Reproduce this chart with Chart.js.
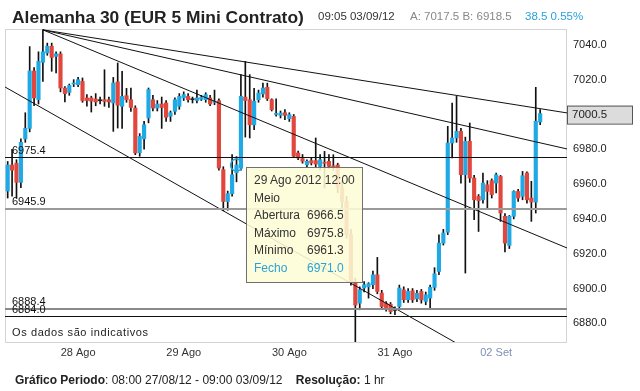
<!DOCTYPE html>
<html>
<head>
<meta charset="utf-8">
<script src="https://cdn.jsdelivr.net/npm/chart.js@4.4.0/dist/chart.umd.min.js"></script>
<style>
  html, body { margin: 0; padding: 0; background: #fff; }
  body { width: 640px; height: 391px; position: relative; overflow: hidden;
         font-family: 'Liberation Sans', Arial, sans-serif; color: #222; }
  #grafico { position: absolute; left: 0; top: 0; }
  .abs { position: absolute; white-space: nowrap; line-height: 1; }
  #titulo { left: 12px; top: 9px; font-weight: bold; font-size: 17.4px; color: #222; }
  .cab { top: 11px; font-size: 11.5px; }
  #nota { left: 12px; top: 327px; font-size: 11px; letter-spacing: 0.6px; color: #222; }
  #rodape { left: 15px; top: 374px; font-size: 12px; color: #222; }
  #dica { position: absolute; left: 246px; top: 167px; width: 117px; height: 116px; box-sizing: border-box;
          background: rgba(253, 252, 214, 0.88); border: 1px solid #707070;
          padding: 4px 0 0 7px; font-size: 12px; line-height: 17.5px; color: #333; }
  #dica span.l { display: inline-block; width: 53px; }
  #dica .fecho { color: #29a3d8; }
</style>
</head>
<body>
<canvas id="grafico" width="640" height="391"></canvas>
<div class="abs" id="titulo">Alemanha 30 (EUR 5 Mini Contrato)</div>
<div class="abs cab" style="left:318px;color:#333">09:05 03/09/12</div>
<div class="abs cab" style="left:410px;color:#888">A: 7017.5 B: 6918.5</div>
<div class="abs cab" style="left:525px;color:#29a3d8">38.5 0.55%</div>
<div class="abs" id="nota">Os dados são indicativos</div>
<div class="abs" id="rodape"><b>Gráfico Periodo</b>: 08:00 27/08/12 - 09:00 03/09/12 &nbsp;&nbsp;&nbsp;<b>Resolução:</b> 1 hr</div>
<div id="dica"></div>
<script>
"use strict";

// velas de 1 hora, 27/08 08:00 ... 03/09 09:00
var opens = [6956, 6971, 6972, 6961, 6986, 6992, 7025, 7008.5, 7030, 7035.3,
  7039.2, 7033.4, 7034.8, 7015.2, 7012.7, 7017.5, 7017.1, 7019, 7009.5, 7009.5,
  7008.9, 7007.9, 7008.5, 7008.5, 7006.6, 7018.7, 7004.7, 7010.8, 7008.5, 7003.7,
  6978, 6986, 6998, 7008.5, 7003.7, 7006, 7006.6, 6999, 7001.8, 7004.7,
  7009.5, 7010.4, 7008.5, 7008, 7008.7, 7008.5, 7009.5, 7007, 7007.9, 6968.3,
  6950, 6954.5, 6966.5, 6969.2, 7010, 7008.5, 6994, 7008.5, 7011.8, 7015.6,
  7008.5, 7000, 6999.5, 7001, 6997.6, 6998.9, 6977.9, 6974.6, 6971.1, 6973.5,
  6973.5, 6970.2, 6972.5, 6973.1, 6970.5, 6971, 6958, 6950, 6931, 6903.9,
  6891.6, 6900.3, 6901, 6902.2, 6907.9, 6897.4, 6891.6, 6891, 6887.5, 6889.7,
  6899.3, 6893.6, 6898.7, 6894.1, 6898.3, 6892.6, 6894.5, 6900.7, 6909.8, 6926.1,
  6932.4, 6983.6, 6986.5, 6990.3, 6965.4, 6984.6, 6963.5, 6953, 6951, 6959.6,
  6962, 6960.6, 6964.4, 6941.5, 6924.8, 6941.5, 6955.8, 6953, 6966.4, 6952,
  6949.7, 6995.7];
var highs = [6973, 6980, 6974, 6986, 7001, 7039, 7027, 7036, 7048.6, 7041,
  7041, 7036, 7036, 7016, 7017.5, 7020, 7021.3, 7021, 7011.4, 7010.5,
  7012, 7010, 7025.7, 7010, 7021.3, 7029.6, 7024.8, 7015, 7015.2, 7005,
  6989, 6996, 7015.2, 7011, 7008, 7010, 7008, 7002, 7009.5, 7012,
  7013, 7012, 7010, 7014, 7011, 7012.5, 7011, 7014, 7009, 6970,
  6956, 6977, 6975.8, 7022.9, 7030.5, 7022.9, 7015, 7014, 7018, 7018,
  7009, 7009, 7002, 7002.8, 7001, 7000, 6979, 6977, 6974, 6975,
  6986.5, 6977, 6978.8, 6976.9, 6976.9, 6972, 6962, 6953, 6934, 6906,
  6901, 6904, 6903.4, 6910, 6917.9, 6899, 6892.5, 6892, 6889.5, 6902,
  6901, 6900, 6900, 6899, 6899.5, 6898, 6902, 6912, 6930.9, 6934,
  6993.2, 7006.6, 7010.4, 6992, 6987, 6995.1, 6965, 6954, 6966.4, 6962,
  6963, 6966.4, 6965, 6943, 6942, 6956.2, 6957, 6967.3, 6967, 6961.6,
  7015.6, 7002.8];
var lows = [6952, 6953, 6952, 6958, 6984, 6990, 7005, 7006, 7019, 7034,
  7024.8, 7023.8, 7013, 7007.2, 7011, 7016, 7016, 7007, 7004.7, 7001.4,
  7005, 7006, 7004.7, 7004, 6990.3, 6992.2, 6992, 7007, 7001.8, 6976.9,
  6976, 6980, 6995.2, 7002, 7002, 6992, 6996, 6996, 7000, 7003,
  7008, 7007, 7006.6, 7006.6, 7008, 7007, 7005, 7005.6, 6968, 6944.7,
  6945, 6953, 6961.3, 6968, 6987, 6986.5, 6991.3, 7007, 7010, 7008,
  7002, 6999, 6998, 6997, 6996, 6975.5, 6974, 6972, 6970, 6971,
  6970, 6968, 6957.8, 6969, 6968, 6955, 6944, 6929, 6902, 6866,
  6887.8, 6898, 6894.5, 6900, 6897, 6888, 6887, 6885.5, 6885, 6888,
  6892, 6892, 6892, 6892.5, 6891.6, 6890.7, 6888.8, 6899, 6908, 6925,
  6931, 6975, 6984, 6960.6, 6908.9, 6961, 6939.5, 6932.8, 6949, 6945.3,
  6952, 6955, 6938.6, 6921, 6923, 6940, 6950, 6951, 6949, 6938.6,
  6943.4, 6994.1];
var closes = [6971, 6968, 6961, 6984, 6992, 7025, 7009.5, 7030.5, 7036, 7039.2,
  7032.8, 7034.8, 7015.2, 7012, 7016.7, 7018.1, 7020, 7008, 7008, 7007.6,
  7007.2, 7007.9, 7007.5, 7007.2, 7018.1, 7005.3, 7010.4, 7008.5, 7004.1, 6977.9,
  6987.4, 6994.1, 7014.3, 7003.7, 7006, 7004, 6998.4, 7001, 7008.5, 7010.4,
  7011.4, 7008.5, 7008.5, 7009.5, 7009.8, 7011.4, 7006, 7007.2, 6969.2, 6950,
  6954.5, 6965.4, 6971.0, 7010.4, 7008, 6994.1, 7007.6, 7012.3, 7015.2, 7009.1,
  7002.8, 7000.5, 7000.8, 6999.5, 6999.9, 6976, 6975, 6973.1, 6973.1, 6972.1,
  6971.5, 6974, 6972, 6970.2, 6969.5, 6958, 6950, 6931, 6904, 6890.5,
  6899.3, 6902.2, 6902.8, 6907.9, 6898.3, 6889.7, 6888.7, 6886.8, 6887.5, 6900.3,
  6893.6, 6898.4, 6893.5, 6897.3, 6893.5, 6896.4, 6900.7, 6908.5, 6926.1, 6931.9,
  6983.6, 6986.5, 6990.3, 6965.4, 6984.6, 6963.5, 6951, 6950.5, 6960.6, 6955.8,
  6953.9, 6965.4, 6943.4, 6926.1, 6941.5, 6955.8, 6952, 6964.8, 6951, 6949.7,
  6996.1, 7000.5];

// etiquetas do eixo x (indice da vela a meia-noite)
var diasIdx = [16, 40, 64, 88, 111];
var diasTxt = ["28 Ago", "29 Ago", "30 Ago", "31 Ago", "02 Set"];

// eixo y
var yTicks = [6880, 6900, 6920, 6940, 6960, 6980, 7000, 7020, 7040];
var yMin = 6869.3;
var yMax = 7049.1;

// linhas horizontais marcadas
var niveis = [6975.4, 6945.9, 6888.4, 6884.0];

// linhas de tendencia [x1, y1, x2, y2]
var tendencias = [
  [8, 7048.6, 127.1, 7000.9],
  [8, 7048.6, 127.1, 6980.2],
  [8, 7048.6, 127.1, 6923.3],
  [-0.61, 7015.8, 108, 6860]
];

var velaActiva = 52; // 29 Ago 2012 12:00

var corSobe = "#1fa9e5";
var corDesce = "#e2473d";

Chart.defaults.font.family = "'Liberation Sans', Arial, sans-serif";

var corpos = [];
var pavios = [];
var coresCorpo = [];
opens.forEach(function (o, i) {
  corpos.push({ x: i, y: [o, closes[i]] });
  pavios.push({ x: i, y: [lows[i], highs[i]] });
  if (closes[i] > o) {
    coresCorpo.push(corSobe);
  } else if (closes[i] < o) {
    coresCorpo.push(corDesce);
  } else {
    coresCorpo.push("#222");
  }
});

var datasets = [];
tendencias.forEach(function (t) {
  datasets.push({
    type: "line",
    data: [{ x: t[0], y: t[1] }, { x: t[2], y: t[3] }],
    borderColor: "#111",
    borderWidth: 1,
    pointRadius: 0,
    fill: false
  });
});
datasets.push({
  type: "bar",
  data: corpos,
  backgroundColor: coresCorpo,
  barThickness: 3.5,
  minBarLength: 1,
  grouped: false
});
datasets.push({
  type: "bar",
  data: pavios,
  backgroundColor: "#111",
  barThickness: 1,
  grouped: false
});

// linhas, etiquetas, marca da vela activa e caixa do ultimo preco
var extras = {
  id: "extras",
  beforeDatasetsDraw: function (chart) {
    var ctx = chart.ctx, a = chart.chartArea;
    ctx.save();
    ctx.strokeStyle = "#d4d4d4";
    ctx.lineWidth = 1;
    ctx.strokeRect(a.left + 0.5, a.top + 0.5, a.right - a.left - 1, a.bottom - a.top);
    ctx.restore();
  },
  afterDatasetsDraw: function (chart) {
    var ctx = chart.ctx, a = chart.chartArea;
    var x = chart.scales.x, y = chart.scales.y;
    var estilos = [
      { cor: "#111", larg: 1 },
      { cor: "#9a9a9a", larg: 2 },
      { cor: "#8a8a8a", larg: 2 },
      { cor: "#111", larg: 1 }
    ];
    ctx.save();
    ctx.font = "11px 'Liberation Sans', Arial, sans-serif";
    ctx.textAlign = "left";
    ctx.textBaseline = "alphabetic";
    niveis.forEach(function (v, k) {
      var py = Math.round(y.getPixelForValue(v)) + (estilos[k].larg === 1 ? 0.5 : 0);
      ctx.strokeStyle = estilos[k].cor;
      ctx.lineWidth = estilos[k].larg;
      ctx.beginPath();
      ctx.moveTo(a.left, py);
      ctx.lineTo(a.right, py);
      ctx.stroke();
      ctx.fillStyle = "#111";
      ctx.fillText(v.toFixed(1), a.left + 7, py - 4);
    });

    // circulo na vela activa
    ctx.strokeStyle = "#29a3d8";
    ctx.lineWidth = 1.5;
    ctx.beginPath();
    ctx.arc(x.getPixelForValue(velaActiva), y.getPixelForValue(closes[velaActiva]), 6, 0, Math.PI * 2);
    ctx.stroke();

    // caixa do ultimo preco
    var ultimo = closes[closes.length - 1];
    var cy = y.getPixelForValue(ultimo);
    ctx.fillStyle = "#dcdcdc";
    ctx.fillRect(a.right, cy - 8, 65, 18);
    ctx.strokeStyle = "#555";
    ctx.lineWidth = 1;
    ctx.strokeRect(a.right + 0.5, cy - 7.5, 65, 18);
    ctx.fillStyle = "#222";
    ctx.font = "11.5px 'Liberation Sans', Arial, sans-serif";
    ctx.textBaseline = "middle";
    ctx.fillText(ultimo.toFixed(1), a.right + 5, cy + 1.5);
    ctx.restore();
  }
};

var grafico = new Chart(document.getElementById("grafico"), {
  type: "bar",
  data: { datasets: datasets },
  options: {
    responsive: false,
    animation: false,
    layout: { padding: { left: 5, top: 29, right: 5, bottom: 29 } },
    plugins: { legend: { display: false }, tooltip: { enabled: false } },
    scales: {
      x: {
        type: "linear",
        min: -0.61,
        max: 127.1,
        offset: false,
        grid: { display: false, drawTicks: false },
        border: { display: false },
        afterBuildTicks: function (s) {
          s.ticks = diasIdx.map(function (v) { return { value: v }; });
        },
        afterFit: function (s) { s.height = 20; },
        ticks: {
          padding: 4,
          maxRotation: 0,
          autoSkip: false,
          font: { size: 11 },
          color: function (c) { return c.index === 4 ? "#7f90b2" : "#333"; },
          callback: function (v) { return diasTxt[diasIdx.indexOf(v)]; }
        }
      },
      y: {
        position: "right",
        min: yMin,
        max: yMax,
        grid: { display: false, drawTicks: false },
        border: { display: false },
        afterBuildTicks: function (s) {
          s.ticks = yTicks.map(function (v) { return { value: v }; });
        },
        afterFit: function (s) { s.width = 68; },
        ticks: {
          padding: 6,
          font: { size: 11 },
          color: "#222",
          callback: function (v) { return Number(v).toFixed(1); }
        }
      }
    }
  },
  plugins: [extras]
});

// caixa de informacao da vela activa
var dica = document.getElementById("dica");
var linhas = [
  ["Abertura", opens[velaActiva]],
  ["Máximo", highs[velaActiva]],
  ["Mínimo", lows[velaActiva]],
  ["Fecho", closes[velaActiva]]
];
var html = "<div>29 Ago 2012 12:00</div><div>Meio</div>";
linhas.forEach(function (l, k) {
  html += "<div" + (k === 3 ? " class=\"fecho\"" : "") + "><span class=\"l\">" + l[0] + "</span>" + l[1].toFixed(1) + "</div>";
});
dica.innerHTML = html;
</script>
</body>
</html>
